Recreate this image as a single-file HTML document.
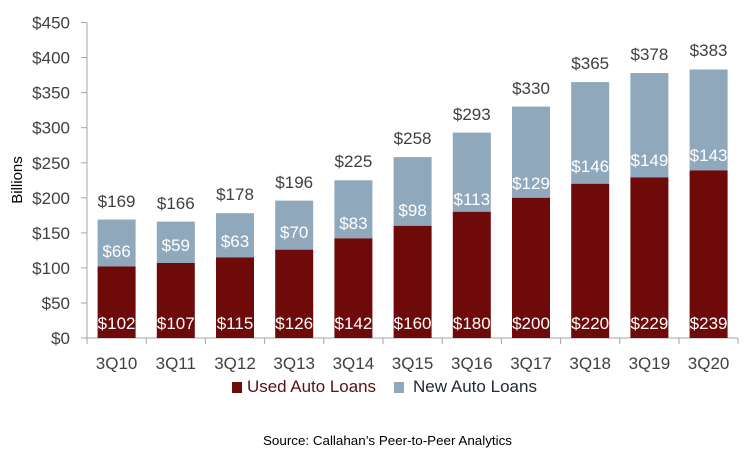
<!DOCTYPE html>
<html><head><meta charset="utf-8"><style>
html,body{margin:0;padding:0;background:#fff;}
svg{display:block;font-family:"Liberation Sans",sans-serif;}
</style></head><body>
<svg width="750" height="468" viewBox="0 0 750 468" xmlns="http://www.w3.org/2000/svg">
<g stroke="#a6a6a6" stroke-width="1">
<line x1="87" y1="22.5" x2="87" y2="338"/>
<line x1="87" y1="338" x2="738" y2="338"/>
<line x1="81" y1="22.5" x2="87" y2="22.5"/><line x1="81" y1="57.6" x2="87" y2="57.6"/><line x1="81" y1="92.6" x2="87" y2="92.6"/><line x1="81" y1="127.7" x2="87" y2="127.7"/><line x1="81" y1="162.8" x2="87" y2="162.8"/><line x1="81" y1="197.8" x2="87" y2="197.8"/><line x1="81" y1="232.9" x2="87" y2="232.9"/><line x1="81" y1="267.9" x2="87" y2="267.9"/><line x1="81" y1="338" x2="87" y2="338"/><line x1="81" y1="303" x2="87" y2="303"/>
<line x1="87" y1="338" x2="87" y2="344"/><line x1="146.2" y1="338" x2="146.2" y2="344"/><line x1="205.4" y1="338" x2="205.4" y2="344"/><line x1="264.6" y1="338" x2="264.6" y2="344"/><line x1="323.8" y1="338" x2="323.8" y2="344"/><line x1="383" y1="338" x2="383" y2="344"/><line x1="442.2" y1="338" x2="442.2" y2="344"/><line x1="501.4" y1="338" x2="501.4" y2="344"/><line x1="560.6" y1="338" x2="560.6" y2="344"/><line x1="619.8" y1="338" x2="619.8" y2="344"/><line x1="679" y1="338" x2="679" y2="344"/><line x1="738" y1="338" x2="738" y2="344"/>
</g>
<g font-size="17" fill="#404040" text-anchor="end">
<text x="70" y="28.5">$450</text><text x="70" y="63.6">$400</text><text x="70" y="98.6">$350</text><text x="70" y="133.7">$300</text><text x="70" y="168.8">$250</text><text x="70" y="203.8">$200</text><text x="70" y="238.9">$150</text><text x="70" y="273.9">$100</text><text x="70" y="309">$50</text><text x="70" y="344">$0</text>
</g>
<text transform="translate(22,180) rotate(-90)" font-size="15" fill="#000" text-anchor="middle">Billions</text>
<g fill="#8fa8bb">
<rect x="97.6" y="219.5" width="38" height="47"/><rect x="156.8" y="221.6" width="38" height="41.4"/><rect x="216" y="213.2" width="38" height="44.2"/><rect x="275.2" y="200.6" width="38" height="49.1"/><rect x="334.4" y="180.3" width="38" height="58.1"/><rect x="393.6" y="157.1" width="38" height="68.7"/><rect x="452.8" y="132.6" width="38" height="79.2"/><rect x="512" y="106.6" width="38" height="91.2"/><rect x="571.2" y="82.1" width="38" height="101.7"/><rect x="630.4" y="73" width="38" height="104.4"/><rect x="689.6" y="69.5" width="38" height="100.9"/>
</g>
<g fill="#6e0a0a">
<rect x="97.6" y="266.5" width="38" height="71.5"/><rect x="156.8" y="263" width="38" height="75"/><rect x="216" y="257.4" width="38" height="80.6"/><rect x="275.2" y="249.7" width="38" height="88.3"/><rect x="334.4" y="238.4" width="38" height="99.6"/><rect x="393.6" y="225.8" width="38" height="112.2"/><rect x="452.8" y="211.8" width="38" height="126.2"/><rect x="512" y="197.8" width="38" height="140.2"/><rect x="571.2" y="183.8" width="38" height="154.2"/><rect x="630.4" y="177.4" width="38" height="160.6"/><rect x="689.6" y="170.4" width="38" height="167.6"/>
</g>
<g font-size="17" fill="#fff" text-anchor="middle">
<text x="116.6" y="329">$102</text><text x="175.8" y="329">$107</text><text x="235" y="329">$115</text><text x="294.2" y="329">$126</text><text x="353.4" y="329">$142</text><text x="412.6" y="329">$160</text><text x="471.8" y="329">$180</text><text x="531" y="329">$200</text><text x="590.2" y="329">$220</text><text x="649.4" y="329">$229</text><text x="708.6" y="329">$239</text>
<text x="116.6" y="257">$66</text><text x="175.8" y="251">$59</text><text x="235" y="247">$63</text><text x="294.2" y="238">$70</text><text x="353.4" y="229">$83</text><text x="412.6" y="216">$98</text><text x="471.8" y="205">$113</text><text x="531" y="189">$129</text><text x="590.2" y="172">$146</text><text x="649.4" y="166">$149</text><text x="708.6" y="161">$143</text>
</g>
<g font-size="17" fill="#404040" text-anchor="middle">
<text x="116.6" y="207">$169</text><text x="175.8" y="209">$166</text><text x="235" y="200">$178</text><text x="294.2" y="188">$196</text><text x="353.4" y="167">$225</text><text x="412.6" y="144">$258</text><text x="471.8" y="120">$293</text><text x="531" y="94">$330</text><text x="590.2" y="69">$365</text><text x="649.4" y="60">$378</text><text x="708.6" y="56">$383</text>
<text x="116.6" y="369">3Q10</text><text x="175.8" y="369">3Q11</text><text x="235" y="369">3Q12</text><text x="294.2" y="369">3Q13</text><text x="353.4" y="369">3Q14</text><text x="412.6" y="369">3Q15</text><text x="471.8" y="369">3Q16</text><text x="531" y="369">3Q17</text><text x="590.2" y="369">3Q18</text><text x="649.4" y="369">3Q19</text><text x="708.6" y="369">3Q20</text>
</g>
<rect x="232" y="382" width="10" height="11" fill="#6e0a0a"/>
<text x="247" y="392" font-size="17" fill="#5a1010" textLength="129" lengthAdjust="spacingAndGlyphs">Used Auto Loans</text>
<rect x="394" y="382" width="10" height="11" fill="#8fa8bb"/>
<text x="413" y="392" font-size="17" fill="#222a3a" textLength="124" lengthAdjust="spacingAndGlyphs">New Auto Loans</text>
<text x="263" y="445" font-size="13" fill="#000" textLength="249" lengthAdjust="spacingAndGlyphs">Source: Callahan’s Peer-to-Peer Analytics</text>
</svg>
</body></html>
